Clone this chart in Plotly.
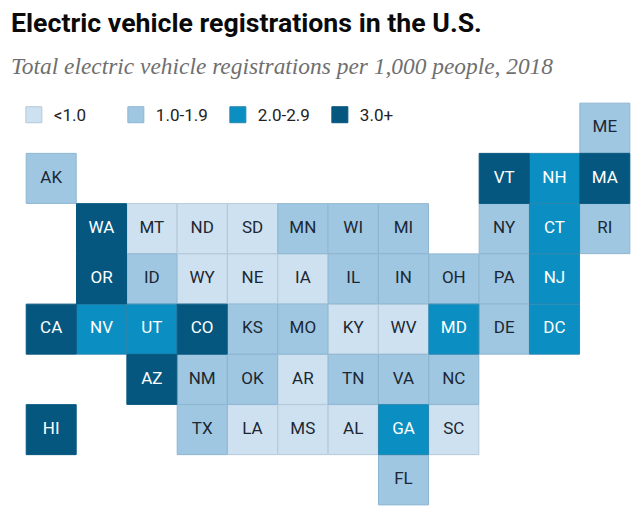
import plotly.graph_objects as go

# tile map, one list per row, "" = empty tile
tile_rows = [
    ["", "", "", "", "", "", "", "", "", "", "", "ME"],
    ["AK", "", "", "", "", "", "", "", "", "VT", "NH", "MA"],
    ["", "WA", "MT", "ND", "SD", "MN", "WI", "MI", "", "NY", "CT", "RI"],
    ["", "OR", "ID", "WY", "NE", "IA", "IL", "IN", "OH", "PA", "NJ", ""],
    ["CA", "NV", "UT", "CO", "KS", "MO", "KY", "WV", "MD", "DE", "DC", ""],
    ["", "", "AZ", "NM", "OK", "AR", "TN", "VA", "NC", "", "", ""],
    ["HI", "", "", "TX", "LA", "MS", "AL", "GA", "SC", "", "", ""],
    ["", "", "", "", "", "", "", "FL", "", "", "", ""],
]

labels = ["<1.0", "1.0-1.9", "2.0-2.9", "3.0+"]
under_1 = ["MT", "ND", "SD", "WY", "NE", "IA", "KY", "WV", "AR", "LA", "MS", "AL", "SC"]
from_1 = ["ME", "AK", "MN", "WI", "MI", "NY", "RI", "ID", "IL", "IN", "OH", "PA", "KS",
          "MO", "DE", "NM", "OK", "TN", "VA", "NC", "TX", "FL"]
from_2 = ["NH", "CT", "NJ", "NV", "UT", "MD", "DC", "GA"]
from_3 = ["VT", "MA", "WA", "OR", "CA", "CO", "AZ", "HI"]
groups = [under_1, from_1, from_2, from_3]

colors = ["#cee1f0", "#9fc7e2", "#0b8fc3", "#05577f"]
edges = ["#b4cadb", "#8fb6d1", "#2a87b0", "#05577f"]
text_colors = ["#1c2733", "#1c2733", "#ffffff", "#ffffff"]

label_font = "Roboto, sans-serif"

fig = go.Figure()
for name, states, color, edge, tc in zip(labels, groups, colors, edges, text_colors):
    xs, ys, txt = [], [], []
    for r, row in enumerate(tile_rows):
        for c, st in enumerate(row):
            if st in states:
                xs.append(c)
                ys.append(r)
                txt.append(st)
    fig.add_trace(go.Scatter(x=xs, y=ys, mode="markers", name=name, cliponaxis=False,
                             marker=dict(symbol="square", size=50, color=color,
                                         line=dict(color=edge, width=1))))
    fig.add_trace(go.Scatter(x=xs, y=ys, mode="text", text=txt, showlegend=False,
                             cliponaxis=False,
                             textfont=dict(family=label_font, size=17, color=tc)))

fig.add_annotation(text="<b>Electric vehicle registrations in the U.S.</b>",
                   xref="paper", yref="paper", x=-0.005, y=1.198, xanchor="left", yanchor="middle",
                   showarrow=False, font=dict(family=label_font, size=26.7, color="#0a0a0a"))
fig.add_annotation(text="<i>Total electric vehicle registrations per 1,000 people, 2018</i>",
                   xref="paper", yref="paper", x=-0.005, y=1.092, xanchor="left", yanchor="middle",
                   showarrow=False, font=dict(family="Liberation Serif, serif", size=23.4, color="#6f6f6f"))

fig.update_layout(
    width=632, height=512,
    margin=dict(l=4, r=10, t=95, b=15),
    plot_bgcolor="white", paper_bgcolor="white",
    xaxis=dict(range=[-0.5, 11.5], visible=False, domain=[0.0227, 1]),
    yaxis=dict(range=[7.5, -0.5], visible=False),
    legend=dict(orientation="h", x=0.003, y=1.0145, xanchor="left", yanchor="top",
                entrywidth=57, entrywidthmode="pixels", itemsizing="trace", itemclick=False,
                font=dict(family=label_font, size=17, color="#222222")),
)
fig.write_html("out.html")
